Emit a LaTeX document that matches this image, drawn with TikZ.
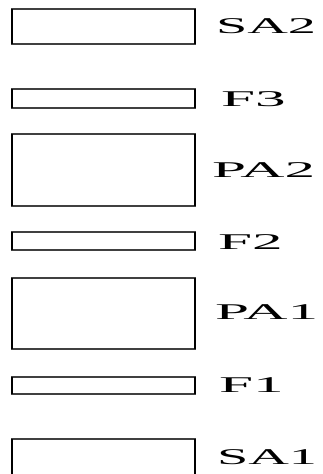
\documentclass[tikz,border=0pt]{standalone}
\usepackage{fontspec}
\setmainfont{Liberation Serif}
\usepackage{graphicx}
\tikzset{
  blk/.style={draw=black!75, line width=1.2pt, fill=white, inner sep=0pt,
    minimum width=183pt, anchor=north west, outer sep=0pt},
  side/.style={line width=2.8pt, black},
  lbl/.style={anchor=west, inner sep=0pt, outer sep=0pt,
    font=\fontsize{22.5}{22.5}\selectfont, text=black},
}
\newcommand{\wide}[2][2.72]{\scalebox{#1}[1]{#2}}
\begin{document}
\begin{tikzpicture}[x=1pt, y=-1pt]
  \useasboundingbox (0,0) rectangle (322,474);
  \clip (0,0) rectangle (322,474);
  % boxes
  \node[blk, minimum height=35pt] (sa2) at (12,9) {};
  \node[blk, minimum height=19pt] (f3)  at (12,89) {};
  \node[blk, minimum height=72pt] (pa2) at (12,134) {};
  \node[blk, minimum height=18pt] (f2)  at (12,232) {};
  \node[blk, minimum height=71pt] (pa1) at (12,278) {};
  \node[blk, minimum height=17pt] (f1)  at (12,377) {};
  \node[blk, minimum height=40pt] (sa1) at (12,439) {};
  % thick side edges
  \foreach \b in {sa2,f3,pa2,f2,pa1,f1,sa1}{
    \draw[side] (\b.north west) -- (\b.south west);
    \draw[side] (\b.north east) -- (\b.south east);
  }
  % labels
  \node[lbl] (tsa2) at (216,26)  {\wide[2.5]{SA2}};
  \node[lbl] (tf3)  at (221,99)  {\wide{F3}};
  \node[lbl] (tpa2) at (212,170) {\wide{PA2}};
  \node[lbl] (tf2)  at (218,242) {\wide{F2}};
  \node[lbl] (tpa1) at (215,312) {\wide{PA1}};
  \node[lbl] (tf1)  at (219,385) {\wide{F1}};
  \node[lbl] (tsa1) at (217,457) {\wide[2.5]{SA1}};
\end{tikzpicture}
\end{document}
